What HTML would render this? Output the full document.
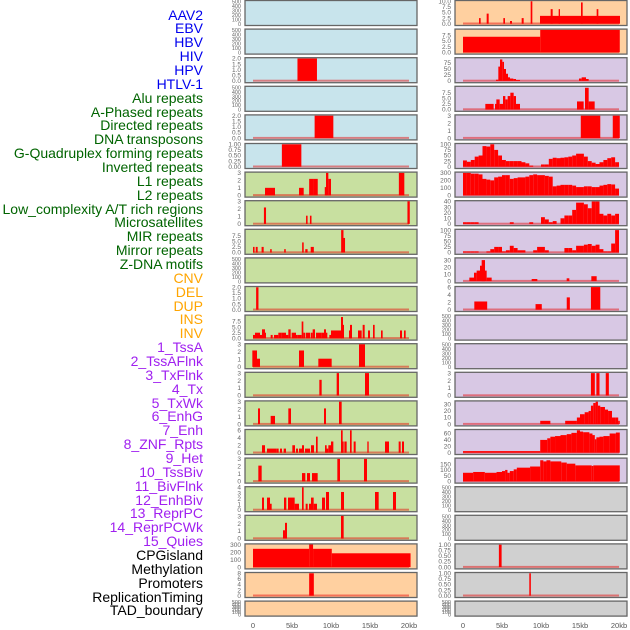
<!DOCTYPE html>
<html><head><meta charset="utf-8">
<style>
body{margin:0;background:#fff;width:630px;height:630px;overflow:hidden;font-family:"Liberation Sans",sans-serif;}
#wrap{position:relative;width:630px;height:630px;}
.lab{position:absolute;right:427px;font-size:14px;line-height:14px;white-space:nowrap;}
svg{position:absolute;left:0;top:0;}
</style></head><body>
<div id="wrap">
<svg id="svg" width="630" height="630"></svg>
</div>
<script>
// ---- data ----
const labels = ["AAV2","EBV","HBV","HIV","HPV","HTLV-1","Alu repeats","A-Phased repeats","Directed repeats","DNA transposons","G-Quadruplex forming repeats","Inverted repeats","L1 repeats","L2 repeats","Low_complexity A/T rich regions","Microsatellites","MIR repeats","Mirror repeats","Z-DNA motifs","CNV","DEL","DUP","INS","INV","1_TssA","2_TssAFlnk","3_TxFlnk","4_Tx","5_TxWk","6_EnhG","7_Enh","8_ZNF_Rpts","9_Het","10_TssBiv","11_BivFlnk","12_EnhBiv","13_ReprPC","14_ReprPCWk","15_Quies","CPGisland","Methylation","Promoters","ReplicationTiming","TAD_boundary"];
const labelGroups = [6,13,5,15,5];
const groupColors = ["#0000ee","#006400","#ffa500","#a020f0","#000000"];
const xTickKb = [0,5,10,15,20];
const xTickLabels = ["0","5kb","10kb","15kb","20kb"];
const emptyTicks = [0,100,200,300,400,500];

const leftBg = ["#c8e4ec","#c8e4ec","#c8e4ec","#c8e4ec","#c8e4ec","#c8e4ec","#c8e0a0","#c8e0a0","#c8e0a0","#c8e0a0","#c8e0a0","#c8e0a0","#c8e0a0","#c8e0a0","#c8e0a0","#c8e0a0","#c8e0a0","#c8e0a0","#c8e0a0","#ffd0a0","#ffd0a0","#ffd0a0"];
const rightBg = ["#ffd0a0","#ffd0a0","#d8c8e4","#d8c8e4","#d8c8e4","#d8c8e4","#d8c8e4","#d8c8e4","#d8c8e4","#d8c8e4","#d8c8e4","#d8c8e4","#d8c8e4","#d8c8e4","#d8c8e4","#d8c8e4","#d8c8e4","#d0d0d0","#d0d0d0","#d0d0d0","#d0d0d0","#d0d0d0"];

const leftYMax = [500,500,2,500,2,1,3,3,10,500,2,10,3,3,3,6,3,4,3,300,8,500];
const rightYMax = [10,9.8,94,10,3,100,300,40,100,32,6,500,500,3,34,70,197,500,500,1,1,500];
const leftTicks = [null,null,[0,0.5,1,1.5,2],null,[0,0.5,1,1.5,2],[0,0.25,0.5,0.75,1],[0,1,2,3],[0,1,2,3],[0,2.5,5,7.5],null,[0,0.5,1,1.5,2],[0,2.5,5,7.5],[0,1,2,3],[0,1,2,3],[0,1,2,3],[0,2,4,6],[0,1,2,3],[0,1,2,3,4],[0,1,2,3],[0,100,200,300],[0,2,4,6,8],null];
const rightTicks = [[0,2.5,5,7.5,10],[0,2.5,5,7.5],[0,25,50,75],[0,2.5,5,7.5],[0,1,2,3],[0,25,50,75,100],[0,100,200,300],[0,10,20,30,40],[0,25,50,75,100],[0,10,20,30],[0,2,4,6],null,null,[0,1,2,3],[0,10,20,30],[0,20,40,60],[0,50,100,150],null,null,[0,0.25,0.5,0.75,1],[0,0.25,0.5,0.75,1],null];

// segments [startKb, endKb, value]
const L2 = [[5.7,8.2,2]];
const L4 = [[7.9,10.3,2]];
const L5 = [[3.7,6.2,1]];
const L6 = [[1.54,2.82,1],[5.9,6.5,1],[7.2,7.7,2.2],[7.7,8.3,2.2],[9.2,9.4,1.1],[9.36,9.66,3],[9.66,10.0,2.2],[18.7,19.4,3]];
const L7 = [[1.4,1.67,2.2],[6.8,7.0,1.1],[7.3,7.5,1.1],[19.8,20.1,3.3]];
const L8 = [[0,0.2,2.5],[0.35,0.6,2.5],[1.1,1.37,2.5],[2.2,2.4,1.5],[4.0,4.2,1.5],[6.3,6.5,4.5],[6.7,7.0,1.5],[7.4,7.8,2.5],[11.3,11.6,10],[11.6,11.8,6.5]];
const L10 = [[0.4,0.7,2]];
const L11px = [[84,90,1.5],[90,105,2.5],[105,111,1.5],[111,120,4],[120,123,2.5],[137,143,1.5],[147,160,1.5],[160,170,2.5],[170,183,2.5],[183,190,1.5],[190,197,4],[200,213,2.5],[213,218,1.5],[218,230,1.5],[230,235,7.5],[235,240,2.5],[242,255,2.5],[257,263,2.5],[263,270,4],[273,290,2.5],[290,297,2.5],[297,303,4],[303,307,2.5],[313,318,1.5],[318,330,3.5],[330,345,3.5],[345,350,3.5],[348,354,9.5],[354,357,6],[372,377,3.5],[375,381,6],[399,410,3.5],[413,419,6],[429,435,3.5],[444,449,6],[468,473,3.5],[525,531,3.5],[537,542,3.5]];
const L12px = [[82,96,2.2],[96,105,1.1],[222,237,2.2],[280,320,1.1],[402,420,3.1]];
const L13px = [[283,290,2.1],[335,342,3],[420,432,3]];
const L14px = [[99,105,2.1],[137,150,1.1],[190,198,2.1],[297,303,2.1],[342,350,3]];
const L15px = [[111,120,2],[126,155,1.1],[155,161,1.1],[165,171,1.1],[176,183,1.1],[202,210,2],[213,219,1.1],[222,232,1.1],[231,237,2],[240,255,1.1],[258,267,2],[273,278,4.3],[300,305,2],[303,310,1.1],[310,318,2],[318,325,3],[348,353,6],[349,356,3],[358,365,3],[375,380,6],[386,392,3],[427,431,3],[480,492,3],[521,527,3],[531,537,3]];
const L16px = [[100,110,2.1],[231,241,1.1],[246,255,1.1],[261,278,1.1],[337,345,3],[417,426,3]];
const L17px = [[111,117,2.2],[126,135,2.2],[135,140,1.1],[177,184,2.2],[189,209,2.2],[209,222,1.1],[231,236,4.1],[242,248,1.1],[252,258,1.1],[258,266,2.2],[266,276,1.1],[291,300,2.2],[303,312,3.2],[348,357,3.2],[450,461,3.2],[504,513,3.2]];
const L18px = [[174,180,1.1],[180,186,2.1],[348,356,3.3]];
const L19 = [[0,7.2,245],[7.2,7.7,320],[7.7,10.1,245],[10.1,20.2,185]];
const L20 = [[7.2,7.8,8]];

const R0px = [[147,152,2.5],[170,176,4.5],[220,225,2.5],[240,246,1.2],[275,281,2.5],[302,307,10],[330,570,3.5],[362,368,6.5],[386,390,6.5],[453,458,9.5],[500,505,6.5]];
const R1 = [[0,9.9,6.8],[9.9,20.1,9.8]];
const R2px = [[198,205,5],[205,210,60],[210,217,90],[217,222,80],[222,228,50],[228,234,30],[234,240,15],[240,250,10],[250,258,8],[258,270,4],[447,455,10],[455,468,15],[468,476,8]];
const R3px = [[166,191,2.5],[195,200,2.5],[199,209,4.5],[209,219,2.5],[219,226,6],[226,233,4.5],[233,241,6],[241,251,7.5],[251,258,6],[258,270,2.5],[441,461,3.6],[465,476,9.7],[476,494,3.6]];
const R4 = [[15.1,17.6,3],[19.2,20.1,3]];
const R5bins = [28,22,30,45,50,92,90,100,75,50,30,25,25,25,25,20,15,5,0,0,10,10,35,40,38,40,42,45,50,58,58,45,25,18,12,20,30,38,42,20];
const R6bins = [300,300,290,290,280,220,210,200,240,250,270,270,220,230,240,240,250,270,280,270,270,260,250,120,130,140,140,140,130,110,110,120,120,110,110,130,140,150,145,90];
const R7bins = [3,3,3,3,0,0,0,0,0,0,0,0,3,0,0,0,0,3,0,0,12,8,3,5,0,10,15,15,25,38,38,35,28,40,40,18,15,18,15,18];
const R8bins = [5,5,5,5,0,0,5,15,25,25,5,10,30,20,10,10,0,0,10,25,25,10,0,0,0,0,20,20,10,30,30,35,38,30,35,15,5,5,40,100];
const R9px = [[118,132,5],[132,140,12],[140,150,15],[150,165,22],[155,165,30],[165,170,15],[170,185,5],[305,322,3],[410,418,4],[484,500,7]];
const R10 = [[1.45,3.1,2.2],[9.3,10.1,1.5],[13.3,13.7,3.3],[16.4,17.6,6.5]];
const R13 = [[16.4,16.9,3],[17.1,17.5,3],[18.3,18.7,3]];
const R14 = [[9.9,11.2,5],[13.1,14.6,5],[14.6,15.0,10],[15.0,15.6,15],[15.6,16.1,18],[16.1,16.4,20],[16.4,16.7,28],[16.7,17.0,32],[17.0,17.3,34],[17.3,17.6,28],[17.6,18.2,26],[18.2,18.6,22],[18.6,19.1,20],[19.1,19.5,10],[19.5,19.9,10],[19.9,20.1,5]];
const R15 = [[0,9.9,5],[9.9,10.8,40],[10.8,11.2,45],[11.2,11.8,50],[11.8,12.5,52],[12.5,13.3,55],[13.3,13.9,58],[13.9,14.6,62],[14.6,15.0,70],[15.0,15.4,66],[15.4,16.2,64],[16.2,16.6,60],[16.6,16.9,55],[16.9,17.1,42],[17.1,17.5,48],[17.5,18.0,50],[18.0,18.8,52],[18.8,19.6,60],[19.6,20.1,63]];
const R16 = [[0,1.3,75],[1.3,2.8,82],[2.8,4.3,75],[4.3,5.0,82],[5.0,5.4,90],[5.4,5.7,100],[5.7,6.0,75],[6.0,6.5,90],[6.5,6.9,105],[6.9,8.6,120],[8.6,9.9,130],[9.9,10.3,185],[10.3,10.7,175],[10.7,11.2,185],[11.2,12.6,175],[12.6,13.3,165],[13.3,14.4,155],[14.4,16.5,140],[16.5,16.7,135],[16.7,20.1,140]];
const R19 = [[4.6,4.95,1]];
const R20 = [[8.5,8.7,1]];
</script>
<script>
const NS="http://www.w3.org/2000/svg";
const svg=document.getElementById('svg');
const wrap=document.getElementById('wrap');
function pxToKb(a){return a.map(s=>[(s[0]-84)/23.4,(s[1]-84)/23.4,s[2]]);}
function rpxToKb(a){return a.map(s=>[(s[0]-99)/23.4,(s[1]-99)/23.4,s[2]]);}
function bins(a){return a.map((v,i)=>[i*0.5,i*0.5+0.5,v]);}
const leftData=[null,null,L2,null,L4,L5,L6,L7,L8,null,L10,pxToKb(L11px),pxToKb(L12px),pxToKb(L13px),pxToKb(L14px),pxToKb(L15px),pxToKb(L16px),pxToKb(L17px),pxToKb(L18px),L19,L20,null];
const rightData=[rpxToKb(R0px),R1,rpxToKb(R2px),rpxToKb(R3px),R4,bins(R5bins),bins(R6bins),bins(R7bins),bins(R8bins),rpxToKb(R9px),R10,null,null,R13,R14,R15,R16,null,null,R19,R20,null];

function mk(tag,attrs){const e=document.createElementNS(NS,tag);for(const k in attrs)e.setAttribute(k,attrs[k]);svg.appendChild(e);return e;}
function fmt(v,ticks){const dec=ticks.some(t=>Math.abs(t-Math.round(t))>1e-9);if(!dec)return String(v);const d=ticks.some(t=>Math.abs(t*10-Math.round(t*10))>1e-9)?2:1;return v.toFixed(d);}

function drawPanel(x0,idx,bg,data,ymax,ticks,side){
  const top=0.5+28.6*idx, h=(idx===21)?15:25, w=172;
  const r=mk('rect',{x:x0,y:top,width:w,height:h,fill:bg,stroke:'#666',"stroke-width":1.3});
  
  
  const bot=top+h-1.8, usable=h-2.6;
  const xs=kb=>x0+8+kb*7.8;
  const ys=v=>bot-v/ymax*usable;
  const tk=ticks||emptyTicks;
  const fs=ticks?6.5:5.5;
  tk.forEach(t=>{
    const tx=mk('text',{x:x0-4,y:ys(t)+2.2,"text-anchor":"end","font-size":fs,fill:'#666',"font-family":"Liberation Sans, sans-serif"});
    tx.textContent=fmt(t,tk);
    
    
  });
  if(data){
    const bl=mk('rect',{x:xs(0),y:bot-1.2,width:xs(20)-xs(0),height:2,fill:'rgba(230,0,0,0.45)'});
    
    
    data.forEach(s=>{
      if(s[2]<=0)return;
      const a=xs(Math.max(s[0],-0.3)),b=xs(s[1]);
      const yy=Math.max(ys(s[2]),top+0.6);
      const bar=mk('rect',{x:a,y:yy,width:Math.max(b-a,1),height:bot-yy,fill:'#ff0000'});
      
      
    });
  }
}
for(let i=0;i<22;i++){
  drawPanel(245,i,leftBg[i],leftData[i],leftYMax[i],leftTicks[i],'left');
  drawPanel(455,i,rightBg[i],rightData[i],rightYMax[i],rightTicks[i],'right');
}
[253,463].forEach((x0,j)=>{
  xTickKb.forEach((k,i)=>{
    const t=mk('text',{x:x0+k*7.8,y:628,"text-anchor":"middle","font-size":7.5,fill:'#555',"font-family":"Liberation Sans, sans-serif"});
    t.textContent=xTickLabels[i];
    
    
  });
});
let li=0;
labelGroups.forEach((n,g)=>{
  for(let k=0;k<n;k++){
    const d=document.createElement('div');
    d.className='lab';
    d.style.top=(15+13.86*li-7.5)+'px';
    d.style.color=groupColors[g];
    d.textContent=labels[li];
    
    
    wrap.appendChild(d);
    li++;
  }
});
</script>
</body></html>
